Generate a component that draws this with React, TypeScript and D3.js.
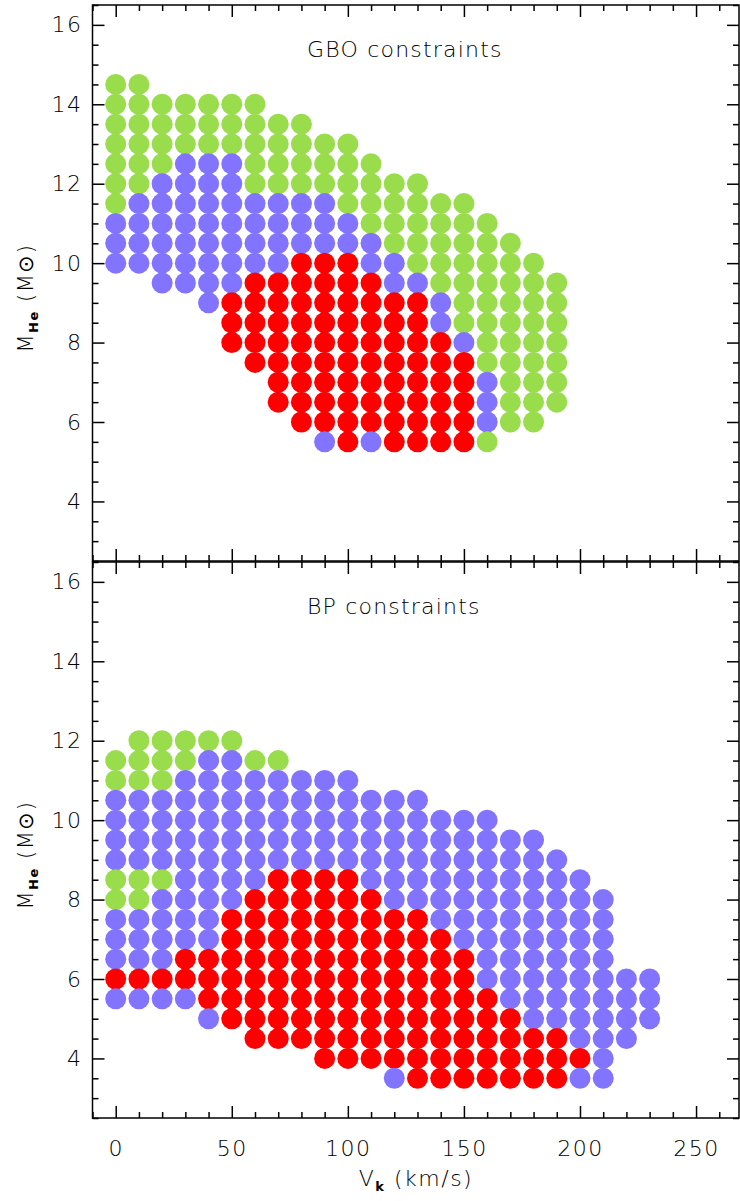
import React, { useEffect, useRef } from 'react';
import * as d3 from 'd3';

// kick velocity of each column of models (km/s)
const vkValues = [0, 10, 20, 30, 40, 50, 60, 70, 80, 90, 100, 110, 120, 130, 140, 150, 160, 170, 180, 190, 200, 210, 220, 230];

// GBO panel: highest He-core mass of each column, then one code per 0.5 Msun step downwards
// G = green, P = purple, R = red
const gboTopMass = [14.5, 14.5, 14, 14, 14, 14, 14, 13.5, 13.5, 13, 13, 12.5, 12, 12, 11.5, 11.5, 11, 10.5, 10, 9.5];
const gboCodes = [
  "GGGGGGGPPP",
  "GGGGGGPPPP",
  "GGGGPPPPPP",
  "GGGPPPPPPP",
  "GGGPPPPPPPP",
  "GGGPPPPPPPRRR",
  "GGGGGPPPPRRRRR",
  "GGGGPPPPRRRRRRR",
  "GGGGPPPRRRRRRRRR",
  "GGGPPPRRRRRRRRRP",
  "GGGGPPRRRRRRRRRR",
  "GGGGPPRRRRRRRRP",
  "GGGGPPRRRRRRRR",
  "GGGGGPRRRRRRRR",
  "GGGGGPPRRRRRR",
  "GGGGGGGPRRRRR",
  "GGGGGGGGPPPG",
  "GGGGGGGGGG",
  "GGGGGGGGG",
  "GGGGGGG",
];

// BP panel
const bpTopMass = [11.5, 12, 12, 12, 12, 12, 11.5, 11.5, 11, 11, 11, 10.5, 10.5, 10.5, 10, 10, 10, 9.5, 9.5, 9, 8.5, 8, 6, 6];
const bpCodes = [
  "GGPPPPGGPPPRP",
  "GGGPPPPGGPPPRP",
  "GGGPPPPGPPPPRP",
  "GGPPPPPPPPPRRP",
  "GPPPPPPPPPPRRRP",
  "GPPPPPPPPRRRRRR",
  "GPPPPPPRRRRRRRR",
  "GPPPPPRRRRRRRRR",
  "PPPPPRRRRRRRRR",
  "PPPPPRRRRRRRRRR",
  "PPPPPRRRRRRRRRR",
  "PPPPPRRRRRRRRR",
  "PPPPPPRRRRRRRRP",
  "PPPPPPRRRRRRRRR",
  "PPPPPPRRRRRRRR",
  "PPPPPPPRRRRRRR",
  "PPPPPPPPPRRRRR",
  "PPPPPPPPPRRRR",
  "PPPPPPPPPPRRR",
  "PPPPPPPPPRRR",
  "PPPPPPPPPRP",
  "PPPPPPPPPP",
  "PPPP",
  "PPP",
];

const panelTitles = ["GBO constraints", "BP constraints"];
const yMajorTicks = [4, 6, 8, 10, 12, 14, 16];
const xMajorTicks = [0, 50, 100, 150, 200, 250];

const colors: Record<string, string> = { G: "#99dd4c", P: "#8274ff", R: "#ff0000" };
const font = "DejaVu Sans";
const weight = 200;

function App() {
  const ref = useRef<SVGSVGElement>(null);

  useEffect(() => {
    const svg = d3.select(ref.current);
    svg.selectAll("*").remove();

    const left = 92.5, right = 739, panelH = 556;
    const x = d3.scaleLinear().domain([-10, 268.5]).range([left, right]);

    const panels = [
      { top: 5, tops: gboTopMass, codes: gboCodes, title: panelTitles[0] },
      { top: 562, tops: bpTopMass, codes: bpCodes, title: panelTitles[1] },
    ];

    panels.forEach((p, k) => {
      const bottom = p.top + panelH;
      const y = d3.scaleLinear().domain([2.5, 16.5]).range([bottom, p.top]);
      const g = svg.append("g");

      const pts: { vk: number; m: number; c: string }[] = [];
      p.codes.forEach((code, i) => {
        code.split("").forEach((c, j) => pts.push({ vk: vkValues[i], m: p.tops[i] - 0.5 * j, c }));
      });

      g.selectAll("circle")
        .data(pts)
        .join("circle")
        .attr("cx", d => x(d.vk))
        .attr("cy", d => y(d.m))
        .attr("r", 10.5)
        .attr("fill", d => colors[d.c]);

      const styleAxis = (a: any) => {
        a.select(".domain").remove();
        a.selectAll("line").attr("stroke", "#000").attr("stroke-width", 1.5);
        a.attr("font-family", font).attr("font-size", 22).attr("font-weight", weight);
        a.selectAll("text").attr("fill", "#000").attr("letter-spacing", 1.5);
      };
      const yMinor = d3.range(2.5, 16.51, 0.5).filter(v => !yMajorTicks.includes(v));
      const xMinor = d3.range(-10, 268, 10).filter(v => !xMajorTicks.includes(v));

      // left
      g.append("g").attr("transform", `translate(${left},0)`)
        .call(d3.axisLeft(y).tickValues(yMajorTicks).tickSize(-12).tickPadding(10).tickFormat(d3.format("d")))
        .call(styleAxis);
      g.append("g").attr("transform", `translate(${left},0)`)
        .call(d3.axisLeft(y).tickValues(yMinor).tickSize(-6).tickFormat(() => ""))
        .call(styleAxis);
      // right
      g.append("g").attr("transform", `translate(${right},0)`)
        .call(d3.axisRight(y).tickValues(yMajorTicks).tickSize(-12).tickFormat(() => ""))
        .call(styleAxis);
      g.append("g").attr("transform", `translate(${right},0)`)
        .call(d3.axisRight(y).tickValues(yMinor).tickSize(-6).tickFormat(() => ""))
        .call(styleAxis);
      // top
      g.append("g").attr("transform", `translate(0,${p.top})`)
        .call(d3.axisTop(x).tickValues(xMajorTicks).tickSize(-12).tickFormat(() => ""))
        .call(styleAxis);
      g.append("g").attr("transform", `translate(0,${p.top})`)
        .call(d3.axisTop(x).tickValues(xMinor).tickSize(-6).tickFormat(() => ""))
        .call(styleAxis);
      // bottom
      g.append("g").attr("transform", `translate(0,${bottom})`)
        .call(d3.axisBottom(x).tickValues(xMajorTicks).tickSize(-12).tickPadding(22)
          .tickFormat(k === 1 ? d3.format("d") : () => ""))
        .call(styleAxis);
      g.append("g").attr("transform", `translate(0,${bottom})`)
        .call(d3.axisBottom(x).tickValues(xMinor).tickSize(-6).tickFormat(() => ""))
        .call(styleAxis);

      g.append("rect")
        .attr("x", left).attr("y", p.top)
        .attr("width", right - left).attr("height", panelH)
        .attr("fill", "none").attr("stroke", "#000").attr("stroke-width", 1.5);

      g.append("text")
        .attr("x", 307).attr("y", p.top + 52)
        .attr("font-family", font).attr("font-size", 22).attr("font-weight", weight)
        .attr("letter-spacing", 1.2)
        .text(p.title);

      const yl = g.append("text")
        .attr("transform", `translate(33,${(p.top + bottom) / 2 + 15}) rotate(-90)`)
        .attr("text-anchor", "middle")
        .attr("font-family", font).attr("font-size", 21).attr("font-weight", weight)
        .attr("letter-spacing", 1.5);
      yl.append("tspan").text("M");
      yl.append("tspan").attr("font-size", 13).attr("font-weight", "bold").attr("dy", 5).text("He");
      yl.append("tspan").attr("dy", -5).text(" (M⊙)");
    });

    const xl = svg.append("text")
      .attr("x", 416).attr("y", 1186)
      .attr("text-anchor", "middle")
      .attr("font-family", font).attr("font-size", 22).attr("font-weight", weight)
      .attr("letter-spacing", 1.5);
    xl.append("tspan").text("V");
    xl.append("tspan").attr("font-size", 13).attr("font-weight", "bold").attr("dy", 5).text("k");
    xl.append("tspan").attr("dy", -5).text(" (km/s)");
  }, []);

  return (
    <svg ref={ref} width={740} height={1201}
      style={{ position: 'absolute', left: 0, top: 0, background: '#fff' }} />
  );
}

export default App;
